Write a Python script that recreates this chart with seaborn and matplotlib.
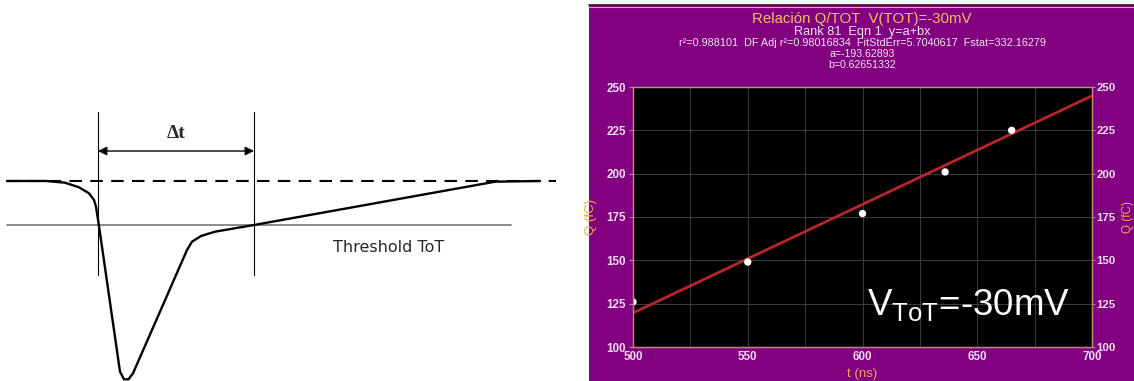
import numpy as np
import matplotlib
matplotlib.use('Agg')
import matplotlib.pyplot as plt
from matplotlib.patches import Rectangle
from matplotlib.lines import Line2D
import seaborn as sns

W, H = 1134, 381

# schematic pulse (left panel, drawing units)
pulse_t = [7, 46, 65, 79, 89, 94, 96, 99, 120, 124, 128.5, 133, 187, 192, 201, 215, 254, 495, 540]
pulse_v = [181, 181, 182.7, 187.3, 193.3, 200, 206.7, 226, 371.7, 379.3, 379.3, 373.3, 250, 241.7, 236, 231.7, 225, 181.7, 181]
baseline_level = 181
threshold_level = 225
crossing_times = [98, 254]

# Q vs ToT measurements (right panel)
tot_ns = [500, 550, 600, 636, 665]
charge_fc = [126, 149, 177, 201, 225]
fit_a = -193.62893
fit_b = 0.62651332
fit_range = [500, 700]

sns.set_style("white")
plt.rcParams['font.family'] = ['Liberation Sans', 'DejaVu Sans']
plt.rcParams['mathtext.fontset'] = 'custom'
plt.rcParams['mathtext.rm'] = 'Liberation Sans'
plt.rcParams['mathtext.it'] = 'Liberation Sans'

fig = plt.figure(figsize=(W / 100, H / 100), dpi=100)
fig.patch.set_facecolor('white')

# ---- left panel: ToT schematic ----
ax0 = fig.add_axes([0, 0, 560 / W, 1])
ax0.set_xlim(0, 560)
ax0.set_ylim(H, 0)
ax0.axis('off')
ax0.plot([7, 556], [baseline_level] * 2, color='black', lw=1.5, ls=(0, (6, 4)))
ax0.plot([7, 511], [threshold_level] * 2, color='#777777', lw=1.2)
for xc in crossing_times:
    ax0.plot([xc, xc], [112, 275], color='black', lw=0.8)
sns.lineplot(x=pulse_t, y=pulse_v, sort=False, color='black', lw=1.7, ax=ax0)
ax0.annotate('', xy=(crossing_times[0], 151), xytext=(crossing_times[1], 151),
             arrowprops=dict(arrowstyle='<|-|>', color='black', lw=1.0,
                             mutation_scale=13, shrinkA=0, shrinkB=0))
ax0.text(sum(crossing_times) / 2, 133, 'Δt', ha='center', va='center',
         fontsize=14, fontweight='bold', family=['Liberation Serif', 'DejaVu Serif'])
ax0.text(389, 247, 'Threshold ToT', ha='center', va='center', fontsize=11.5,
         family=['DejaVu Sans'])

# ---- right panel: Q vs ToT ----
purple = '#82007f'
fig.add_artist(Rectangle((589 / W, 0), 1 - 589 / W, 1 - 5 / H, transform=fig.transFigure,
                         facecolor=purple, edgecolor='none', zorder=-1))
fig.add_artist(Line2D([589 / W, 1], [1 - 5 / H] * 2, transform=fig.transFigure,
                      color='#3a1030', lw=1.2))
fig.add_artist(Line2D([589 / W, 1], [1 - 6.5 / H] * 2, transform=fig.transFigure,
                      color='#d8a0c0', lw=0.8))

ax = fig.add_axes([633 / W, (H - 347) / H, (1092 - 633) / W, (347 - 87) / H])
ax.set_facecolor('black')
ax.set_xlim(500, 700)
ax.set_ylim(100, 250)
ax.set_xticks([500, 550, 600, 650, 700])
ax.set_xticks([525, 575, 625, 675], minor=True)
ax.set_yticks([100, 125, 150, 175, 200, 225, 250])
ax.grid(True, which='both', color='#3c3c3c', lw=0.7)
ax.set_axisbelow(True)

fit_q = [fit_a + fit_b * t for t in fit_range]
sns.lineplot(x=fit_range, y=fit_q, color='#b8262a', lw=2.0, ax=ax, zorder=3)
sns.scatterplot(x=tot_ns, y=charge_fc, color='white', s=28, edgecolor='none', ax=ax, zorder=4)

spine_col = '#c08878'
tick_col = '#ecdcf2'
label_col = '#f0a850'
for sp in ax.spines.values():
    sp.set_color(spine_col)
    sp.set_linewidth(1.0)
ax.tick_params(axis='both', which='both', colors=spine_col, labelcolor=tick_col,
               labelsize=8.4, length=3, width=0.8, pad=2)
ax.tick_params(axis='x', which='both', direction='in', pad=3)
for lab in ax.get_xticklabels() + ax.get_yticklabels():
    lab.set_fontweight('bold')
ax.set_xlabel('t (ns)', color=label_col, fontsize=9.5)
ax.set_ylabel('Q (fC)', color=label_col, fontsize=9.5)
ax.xaxis.set_label_coords(0.5, -0.082)
ax.yaxis.set_label_coords(-0.078, 0.5)

ax2 = ax.twinx()
ax2.set_ylim(100, 250)
ax2.set_yticks([100, 125, 150, 175, 200, 225, 250])
ax2.tick_params(axis='y', colors=spine_col, labelcolor=tick_col, labelsize=8.2,
                length=2, width=0.8, pad=1)
for lab in ax2.get_yticklabels():
    lab.set_fontweight('bold')
for sp in ax2.spines.values():
    sp.set_color(spine_col)
ax2.set_ylabel('Q (fC)', color=label_col, fontsize=8.5, rotation=90)
ax2.yaxis.set_label_coords(1.066, 0.5)

ax.text(602, 118.5, r'V$_{\mathrm{ToT}}$=-30mV', color='white', fontsize=26.5,
        va='baseline', ha='left', zorder=5)

cx = 862 / W
fig.text(cx, 1 - 19 / H, 'Relación Q/TOT  V(TOT)=-30mV', color='#f5c060',
         ha='center', va='center', fontsize=10.8)
fig.text(cx, 1 - 32 / H, 'Rank 81  Eqn 1  y=a+bx', color='#f0e4f4',
         ha='center', va='center', fontsize=9.2)
fig.text(cx, 1 - 43.5 / H,
         'r²=0.988101  DF Adj r²=0.98016834  FitStdErr=5.7040617  Fstat=332.16279',
         color='#f0e4f4', ha='center', va='center', fontsize=7.8)
fig.text(cx, 1 - 54 / H, 'a=-193.62893', color='#f0e4f4',
         ha='center', va='center', fontsize=7.6)
fig.text(cx, 1 - 64.5 / H, 'b=0.62651332', color='#f0e4f4',
         ha='center', va='center', fontsize=7.6)

fig.savefig('out.png', dpi=100)
